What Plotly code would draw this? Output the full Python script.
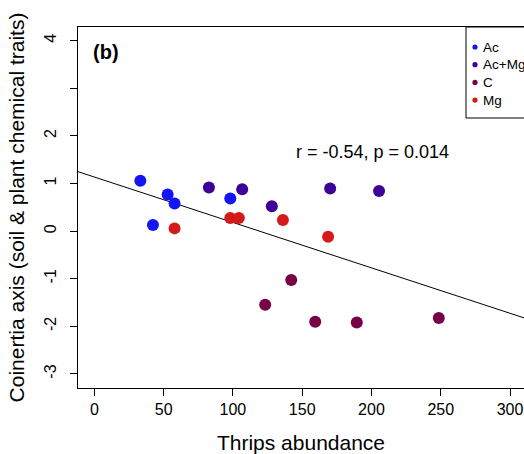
import numpy as np
import plotly.graph_objects as go

# ---- data ----
groups = ["Ac", "Ac+Mg", "C", "Mg"]
colors = ["#1414F5", "#3D0099", "#780045", "#D41A1A"]

ac_x = [33.2, 52.9, 57.9, 42.3, 98.1]
ac_y = [1.055, 0.768, 0.578, 0.127, 0.684]
acmg_x = [82.7, 106.7, 128.1, 170.2, 205.5]
acmg_y = [0.915, 0.880, 0.520, 0.894, 0.844]
c_x = [142.1, 123.3, 159.4, 189.4, 248.6]
c_y = [-1.025, -1.545, -1.905, -1.920, -1.827]
mg_x = [57.9, 98.1, 104.3, 136.1, 168.7]
mg_y = [0.057, 0.274, 0.274, 0.232, -0.118]

x_ticks = [0, 50, 100, 150, 200, 250, 300]
y_ticks = [-3, -2, -1, 0, 1, 2, 3, 4]
y_ticktext = ["-3", "-2", "-1", "0", "1", "2", "", "4"]
stat_label = "r = -0.54, p = 0.014"
panel_label = "(b)"

series_x = [ac_x, acmg_x, c_x, mg_x]
series_y = [ac_y, acmg_y, c_y, mg_y]

FONT = "Liberation Sans, Arial, sans-serif"
W, H = 524, 454
ML, MR, MT, MB = 78, 0, 27, 66
PW, PH = W - ML - MR, H - MT - MB
x_range = [-11.8, 310.1]
y_range = [-3.296, 4.287]


def px(xpix):
    return (xpix - ML) / PW


def py(ypix):
    return (H - MB - ypix) / PH


fig = go.Figure()

# regression line (least squares on all points), drawn across the full x range
all_x = np.concatenate([np.array(v) for v in series_x])
all_y = np.concatenate([np.array(v) for v in series_y])
slope, intercept = np.polyfit(all_x, all_y, 1)
lx = np.array(x_range)
fig.add_trace(go.Scatter(x=lx, y=intercept + slope * lx, mode="lines",
                         line=dict(color="black", width=1), showlegend=False,
                         hoverinfo="skip"))

for name, col, xs, ys in zip(groups, colors, series_x, series_y):
    fig.add_trace(go.Scatter(x=xs, y=ys, mode="markers", name=name,
                             marker=dict(color=col, size=12, line=dict(width=0)),
                             showlegend=False))

# ---- legend box in the style of base R legend() ----
shapes = [dict(type="rect", xref="paper", yref="paper",
               x0=px(466), x1=px(560), y0=py(118), y1=py(27),
               line=dict(color="black", width=1), fillcolor="white", layer="above")]
annotations = []
leg_y0, leg_dy = 47.0, 17.7
for i, (name, col) in enumerate(zip(groups, colors)):
    yy = py(leg_y0 + i * leg_dy)
    shapes.append(dict(type="circle", xref="paper", yref="paper",
                       xsizemode="pixel", ysizemode="pixel",
                       xanchor=px(475), yanchor=yy, x0=-2.6, x1=2.6, y0=-2.6, y1=2.6,
                       fillcolor=col, line=dict(width=0), layer="above"))
    annotations.append(dict(text=name, xref="paper", yref="paper",
                            x=px(481), y=yy, xanchor="left", yanchor="middle",
                            showarrow=False, font=dict(size=13.5, family=FONT)))

annotations += [
    dict(text="<b>" + panel_label + "</b>", xref="paper", yref="paper",
         x=px(91), y=py(51.5), xanchor="left", yanchor="middle",
         showarrow=False, font=dict(size=20, family=FONT)),
    dict(text=stat_label, xref="paper", yref="paper",
         x=px(372), y=py(152), xanchor="center", yanchor="middle",
         showarrow=False, font=dict(size=18, family=FONT)),
]

fig.update_layout(
    width=W, height=H,
    margin=dict(l=ML, r=MR, t=MT, b=MB, pad=0, autoexpand=False),
    paper_bgcolor="white", plot_bgcolor="white",
    font=dict(family=FONT, color="black", size=16),
    showlegend=False,
    xaxis=dict(range=x_range, tickvals=x_ticks, ticktext=[str(v) for v in x_ticks],
               showgrid=False, zeroline=False, showline=True, mirror=True,
               linecolor="black", linewidth=1, ticks="outside", ticklen=7,
               tickcolor="black", tickfont=dict(size=16), automargin=False,
               title=dict(text="Thrips abundance", font=dict(size=21), standoff=21)),
    yaxis=dict(range=y_range, tickvals=y_ticks, ticktext=y_ticktext,
               showgrid=False, zeroline=False, showline=True, mirror=False,
               linecolor="black", linewidth=1, ticks="outside", ticklen=7,
               tickcolor="black", tickfont=dict(size=16), tickangle=-90,
               ticklabelstandoff=8, automargin=False,
               title=dict(text="Coinertia axis (soil & plant chemical traits)",
                          font=dict(size=21), standoff=11)),
    shapes=shapes,
    annotations=annotations,
)

fig.write_html("out.html",
               config={"displayModeBar": False},
               post_script="document.body.style.margin='0';document.body.style.overflow='hidden';")
